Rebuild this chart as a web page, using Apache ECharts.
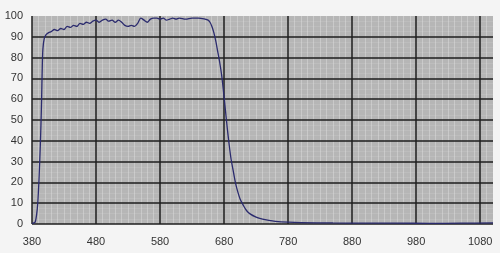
<!DOCTYPE html>
<html><head><meta charset="utf-8">
<script src="https://cdn.jsdelivr.net/npm/echarts@6/dist/echarts.min.js"></script>
<style>html,body{margin:0;padding:0;background:#f4f4f4}#c{width:500px;height:253px}</style>
</head><body><div id="c"></div>
<script>
const wavelengths = [380,383,385,387,389,391,393,394,395,396,397,399,402,406,410,415,420,425,430,435,440,445,450,455,460,465,470,475,480,485,490,495,500,505,510,515,520,525,530,535,540,545,550,555,560,565,570,575,580,585,590,595,600,605,610,620,630,640,650,655,658,661,664,667,670,673,676,679,682,685,688,691,694,697,700,705,710,715,720,730,740,750,760,780,800,850,900,950,1000,1050,1100];
const transmission = [0.3,0.5,1,4,10,22,38,48,60,75,84,89,91,92,92.5,93.5,93,94,93.5,95,94.5,95.5,95,96.5,96,97,96.5,97.5,98,97,98,98.5,97.5,98,97,98,97,95.5,95,95.5,95,96.5,99,98,97,98.5,99,99,98.5,99,98,98.5,99,98.5,99,98.5,99,99,98.5,98,97,95,92,88,83,78,72,64,55,46,38,31,26,21,17,12,9,6.5,5,3.3,2.3,1.7,1.3,0.9,0.7,0.5,0.4,0.4,0.3,0.4,0.5];
const xTicks = {min:380, max:1100, step:100};
const yTicks = {min:0, max:100, step:10};

const chart = echarts.init(document.getElementById('c'), null, {renderer:'canvas'});
const lbl = {color:'#333', fontSize:11, fontFamily:'Liberation Sans, Arial, sans-serif', formatter:v=>String(v)};
const g = {left:32, right:7, top:16, bottom:29};
chart.setOption({
  backgroundColor:'#f4f4f4',
  animation:false,
  grid:[
    Object.assign({show:true, backgroundColor:'#b6b6b6', borderWidth:0, z:0}, g),
    Object.assign({show:false, z:2}, g)
  ],
  xAxis:[
    {gridIndex:0, z:0, type:'value', min:xTicks.min, max:xTicks.max, interval:xTicks.step,
     axisLine:{show:false}, axisTick:{show:false}, axisLabel:{show:false},
     splitLine:{show:false}, minorTick:{show:false, splitNumber:10},
     minorSplitLine:{show:true, lineStyle:{color:'rgba(225,225,225,0.45)', width:1}}},
    {gridIndex:1, z:3, type:'value', min:xTicks.min, max:xTicks.max, interval:xTicks.step,
     axisLine:{show:false}, axisTick:{show:false},
     axisLabel:Object.assign({margin:12, showMaxLabel:false}, lbl),
     splitLine:{show:true, showMaxLine:false, lineStyle:{color:'#1e1e1e', width:1.5}}}
  ],
  yAxis:[
    {gridIndex:0, z:0, type:'value', min:yTicks.min, max:yTicks.max, interval:yTicks.step,
     axisLine:{show:false}, axisTick:{show:false}, axisLabel:{show:false},
     splitLine:{show:false}, minorTick:{show:false, splitNumber:4},
     minorSplitLine:{show:true, lineStyle:{color:'rgba(205,205,205,0.3)', width:1}}},
    {gridIndex:1, z:3, type:'value', min:yTicks.min, max:yTicks.max, interval:yTicks.step,
     axisLine:{show:false}, axisTick:{show:false},
     axisLabel:Object.assign({margin:9}, lbl),
     splitLine:{show:true, showMaxLine:false, lineStyle:{color:'#1e1e1e', width:1.5}}}
  ],
  series:[{type:'line', xAxisIndex:1, yAxisIndex:1, data:wavelengths.map((w,i)=>[w, transmission[i]]),
    showSymbol:false, smooth:0.3, z:5,
    lineStyle:{color:'#2b2b6e', width:1.3}}]
});
</script></body></html>
